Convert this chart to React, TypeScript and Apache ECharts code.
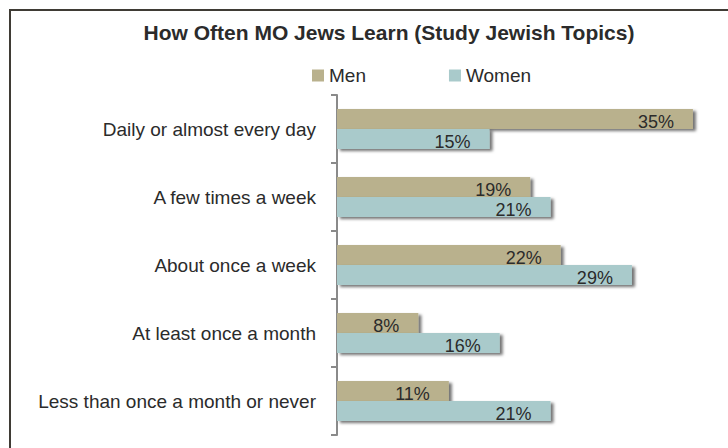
import React, { useEffect, useRef } from "react";
import * as echarts from "echarts";

const categories = [
  "Daily or almost every day",
  "A few times a week",
  "About once a week",
  "At least once a month",
  "Less than once a month or never",
];
const menValues = [35, 19, 22, 8, 11];
const womenValues = [15, 21, 29, 16, 21];
const seriesNames = ["Men", "Women"];
const titleText = "How Often MO Jews Learn (Study Jewish Topics)";

const FONT = "'Liberation Sans', Arial, sans-serif";
const TEXT = "#2b2b2b";

export default function App() {
  const ref = useRef<HTMLDivElement>(null);
  useEffect(() => {
    if (!ref.current) return;
    const chart = echarts.init(ref.current, undefined, { renderer: "svg" });
    const label = {
      show: true,
      position: "insideRight" as const,
      distance: 19,
      offset: [0, 3],
      formatter: (p: any) => p.value + "%",
      color: TEXT,
      fontFamily: FONT,
      fontSize: 18,
    };
    const shadow = {
      shadowBlur: 3,
      shadowColor: "rgba(0,0,0,0.55)",
      shadowOffsetX: 3,
      shadowOffsetY: 2,
    };
    chart.setOption({
      animation: false,
      backgroundColor: "#ffffff",
      title: {
        text: titleText,
        left: 384,
        textAlign: "center",
        top: 17,
        textStyle: {
          fontFamily: FONT,
          fontWeight: "bold",
          fontSize: 21,
          color: TEXT,
        },
      },
      legend: {
        left: 307,
        top: 61,
        itemWidth: 12,
        itemHeight: 12,
        itemGap: 83,
        icon: "rect",
        data: seriesNames,
        textStyle: { fontFamily: FONT, fontSize: 19, color: TEXT },
      },
      graphic: [
        {
          type: "rect",
          shape: { x: 10, y: 10, width: 900, height: 900 },
          style: { fill: "none", stroke: "#3f3b35", lineWidth: 2 },
          silent: true,
        },
      ],
      grid: { left: 337, top: 95, height: 340, right: 0 },
      xAxis: {
        type: "value",
        min: 0,
        max: 38.45,
        show: false,
      },
      yAxis: {
        type: "category",
        inverse: true,
        data: categories,
        axisLine: { show: true, lineStyle: { color: "#8a8a8a", width: 2 } },
        axisTick: { show: true, length: 6, lineStyle: { color: "#8a8a8a", width: 2 } },
        axisLabel: {
          margin: 21,
          fontFamily: FONT,
          fontSize: 19,
          color: TEXT,
        },
        splitLine: { show: false },
      },
      series: [
        {
          name: seriesNames[0],
          type: "bar",
          data: menValues,
          barWidth: 20,
          barGap: "0%",
          itemStyle: { color: "#b9b18d", ...shadow },
          label,
        },
        {
          name: seriesNames[1],
          type: "bar",
          data: womenValues,
          barWidth: 20,
          barGap: "0%",
          itemStyle: { color: "#a9cacb", ...shadow },
          label,
        },
      ],
    });
    return () => chart.dispose();
  }, []);
  return (
    <div
      ref={ref}
      style={{ position: "absolute", left: 0, top: 0, width: 728, height: 448 }}
    />
  );
}
